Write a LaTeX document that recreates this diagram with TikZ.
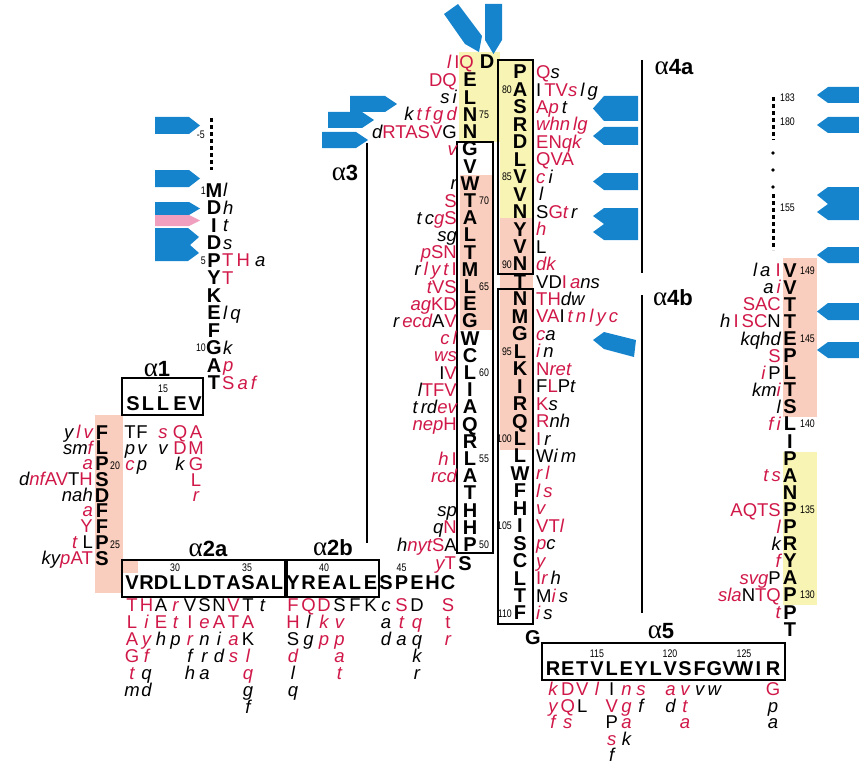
\documentclass[tikz,border=0pt]{standalone}
\usepackage{fontspec}
\setmainfont{Liberation Sans}
\newfontfamily\seriffont{Liberation Serif}
\definecolor{vred}{RGB}{208,24,72}
\definecolor{vblue}{RGB}{22,132,204}
\definecolor{vpink}{RGB}{240,160,190}
\definecolor{salm}{RGB}{250,206,190}
\definecolor{yel}{RGB}{248,244,180}
\newcommand\rU[1]{\textcolor{vred}{#1}}
\newcommand\rI[1]{\textcolor{vred}{\itshape #1}}
\newcommand\bI[1]{{\itshape #1}}
\newcommand\Mc[3]{\node[mn] at ({#1},{(#2)+7}) {#3};}
\newcommand\VL[3]{\node[vt,anchor=base west] at ({#1},{(#2)+6.6}) {#3};}
\newcommand\VR[3]{\node[vt,anchor=base east] at ({#1},{(#2)+6.6}) {#3};}
\newcommand\VC[3]{\node[vt,anchor=base] at ({#1},{(#2)+6.6}) {#3};}
\newcommand\NL[3]{\node[nm,anchor=base west] at ({#1},{(#2)+4}) {\scalebox{0.8}[1]{#3}};}
\newcommand\NR[3]{\node[nm,anchor=base east] at ({#1},{(#2)+4}) {\scalebox{0.8}[1]{#3}};}
\newcommand\NC[3]{\node[nm,anchor=base] at ({#1},{(#2)+4}) {\scalebox{0.8}[1]{#3}};}
\newcommand\Vcol[4][17]{\foreach \vv [count=\jj from 0] in {#4} {\node[vt,anchor=base] at ({#2},{(#3)+#1*\jj+6.6}) {\vv};}}
\newcommand\Alab[3]{\node[inner sep=0pt,anchor=base] at ({#1},{(#2)+8}) {{\seriffont\fontsize{27}{27}\selectfont α}{\fontsize{22}{22}\selectfont\bfseries #3}};}
\tikzset{
 mn/.style={font=\fontsize{20}{20}\selectfont\bfseries, inner sep=0pt, anchor=base},
 vt/.style={font=\fontsize{18.5}{18.5}\selectfont, inner sep=0pt},
 nm/.style={font=\fontsize{11}{11}\selectfont, inner sep=0pt},
 hbox/.style={draw, line width=2.4pt},
 hline/.style={line width=2.4pt},
 dotl/.style={line width=3pt, dash pattern=on 4pt off 3pt},
}
\begin{document}
\begin{tikzpicture}[x=1pt,y=-1pt]
\useasboundingbox (0,0) rectangle (859,765);
% highlights
\fill[salm] (95,415) rectangle (123,593);
\fill[salm] (122,561) rectangle (138,573);
\fill[salm] (460,175) rectangle (492,330);
\fill[yel] (459,52) rectangle (500,142);
\fill[yel] (500,60) rectangle (533,218);
\fill[salm] (500,218) rectangle (533,450);
\fill[salm] (783,258) rectangle (817,417);
\fill[yel] (783,452) rectangle (817,605);
% blue tags
\fill[vblue] (155,117)--(189,117)--(200,125.5)--(189,134)--(155,134)--cycle;
\fill[vblue] (155,170)--(189,170)--(200,178.5)--(189,187)--(155,187)--cycle;
\fill[vblue] (155,202)--(189,202)--(200,208.5)--(189,215)--(155,215)--cycle;
\fill[vpink] (155,215)--(189,215)--(200,220.5)--(189,226)--(155,226)--cycle;
\fill[vblue] (155,228)--(188,228)--(199,237)--(190,245)--(199,253)--(188,261)--(155,261)--cycle;
\fill[vblue] (350,96)--(385,96)--(397,104)--(385,112)--(350,112)--cycle;
\fill[vblue] (328,112)--(362,112)--(374,120)--(362,128)--(328,128)--cycle;
\fill[vblue] (322,132)--(356,132)--(368,140)--(356,148)--(322,148)--cycle;
\fill[vblue] (444,14)--(458,4)--(482,36)--(479,52)--(465,44)--cycle;
\fill[vblue] (485,4)--(502,4)--(502,40)--(493.5,54)--(485,40)--cycle;
\fill[vblue] (638,96)--(604,96)--(593,108.5)--(604,121)--(638,121)--cycle;
\fill[vblue] (638,127)--(604,127)--(593,136)--(604,145)--(638,145)--cycle;
\fill[vblue] (638,173)--(604,173)--(593,181.5)--(604,190)--(638,190)--cycle;
\fill[vblue] (638,208)--(604,208)--(593,216)--(604,224)--(593,232)--(604,240)--(638,240)--cycle;
\fill[vblue] (593,340)--(604,332)--(636,340)--(634,357)--(604,349)--cycle;
\fill[vblue] (859,87)--(828,87)--(817,95)--(828,103)--(859,103)--cycle;
\fill[vblue] (859,117)--(828,117)--(817,125)--(828,133)--(859,133)--cycle;
\fill[vblue] (859,187)--(828,187)--(817,195)--(828,204)--(817,212)--(828,220)--(859,220)--cycle;
\fill[vblue] (859,247)--(828,247)--(817,255)--(828,263)--(859,263)--cycle;
\fill[vblue] (859,303)--(828,303)--(817,311.5)--(828,320)--(859,320)--cycle;
\fill[vblue] (859,342)--(828,342)--(817,350)--(828,358)--(859,358)--cycle;
% dotted lines
\draw[dotl] (211,118)--(211,170);
\draw[dotl] (773,97)--(773,140);
\fill (773,153) circle (1.8); \fill (773,170) circle (1.8); \fill (773,187) circle (1.8);
\draw[dotl] (773,194)--(773,250);
% boxes and helix lines
\draw[hbox] (122,378) rectangle (203,415);
\draw[hbox] (122,560) rectangle (285,597);
\draw[hbox] (287,560) rectangle (379,597);
\draw[hbox] (457,142) rectangle (493,553);
\draw[hbox] (498,60) rectangle (533,274);
\draw[hbox] (498,289) rectangle (533,624);
\draw[hbox] (542,643) rectangle (785,680);
\draw[hline] (367,143)--(367,543);
\draw[hline] (642,60)--(642,273);
\draw[hline] (642,295)--(642,613);
% labels
\Alab{157}{368}{1}
\Alab{208}{548}{2a}
\Alab{333}{547}{2b}
\Alab{345}{172}{3}
\Alab{674}{67}{4a}
\Alab{673}{297}{4b}
\Alab{661}{630}{5}
% main chain
\foreach \cc [count=\ii from 0] in {M,D,I,D,P,Y,K,E,F,G,A,T} {\Mc{214}{190+17.5*\ii}{\cc}}
\Mc{133}{403}{S}\Mc{148}{403}{L}\Mc{163}{403}{L}\Mc{180}{403}{E}\Mc{195}{403}{V}
\foreach \cc [count=\ii from 0] in {F,L,P,S,D,F,F,P,S} {\Mc{102}{432+15.75*\ii}{\cc}}
\foreach \cc [count=\ii from 0] in {V,R,D,L,L,D,T,A,S,A,L} {\Mc{132+14.5*\ii}{582}{\cc}}
\foreach \cc [count=\ii from 0] in {Y,R,E,A,L,E,S,P,E,H,C} {\Mc{293+15.5*\ii}{582}{\cc}}
\Mc{465}{563}{S}
\foreach \cc [count=\ii from 0] in {E,L,N,N,G,V,W,T,A,L,T,M,L,E,G,W,C,L,I,A,Q,R,L,A,T,H,H,P} {\Mc{470}{80+17.2*\ii}{\cc}}
\Mc{487}{62}{D}
\foreach \cc [count=\ii from 0] in {P,A,S,R,D,L,V,V,N,Y,V,N,T,N,M,G,L,K,I,R,Q,L,L,W,F,H,I,S,C,L,T,F} {\Mc{520}{72+17.45*\ii}{\cc}}
\Mc{533}{637}{G}
\foreach \cc [count=\ii from 0] in {R,E,T,V,L,E,Y,L,V,S,F,G,V,W,I,R} {\Mc{553+14.67*\ii}{668}{\cc}}
\foreach \cc [count=\ii from 0] in {V,V,T,T,E,P,L,T,S,L,I,P,A,N,P,P,R,Y,A,P,P,T} {\Mc{790}{270+17.1*\ii}{\cc}}
% numbers
\NR{205}{135}{-5}
\NR{206}{190}{1}\NR{206}{260}{5}\NR{206}{347.5}{10}
\NC{163}{388}{15}\NL{110}{465}{20}\NL{110}{544}{25}
\NC{175}{567}{30}\NC{247}{567}{35}\NC{324}{567}{40}\NC{401.5}{567}{45}
\NL{479}{114.4}{75}\NL{479}{200.4}{70}\NL{479}{286.4}{65}\NL{479}{372.4}{60}\NL{479}{458.4}{55}\NL{479}{544.4}{50}
\NR{512}{89.45}{80}\NR{512}{176.7}{85}\NR{512}{264}{90}\NR{512}{351.25}{95}\NR{512}{438.5}{100}\NR{512}{525.7}{105}\NR{512}{613}{110}
\NC{597}{653}{115}\NC{670}{653}{120}\NC{744}{653}{125}
\NL{800}{270}{149}\NL{800}{338.4}{145}\NL{800}{423.9}{140}\NL{800}{509.4}{135}\NL{800}{594.9}{130}
\NL{780}{98}{183}\NL{780}{122}{180}\NL{780}{207}{155}
% variants column 1
\VL{223}{190}{\bI{l}}
\VL{223}{207.5}{\bI{h}}
\VL{223}{225}{\bI{t}}
\VL{223}{242.5}{\bI{s}}
\VL{222}{260}{\rU{T}\,\rU{H}\;\bI{a}}
\VL{222}{277.5}{\rU{T}}
\VL{223}{312.5}{\bI{l\,q}}
\VL{223}{347.5}{\bI{k}}
\VL{223}{365}{\rI{p}}
\VL{222}{382.5}{\rU{S}\,\rI{a\,f}}
% column 2 left
\VR{93}{432}{\bI{y}\,\rI{l\,v}}
\VR{93}{448}{\bI{sm}\rI{f}}
\VR{93}{463}{\rI{a}}
\VR{93}{479}{\bI{d}\rI{nf}\rU{AV}T\rU{H}}
\VR{93}{495}{\bI{nah}}
\VR{93}{510}{\rI{a}}
\VR{93}{526}{\rU{Y}}
\VR{93}{542}{\rI{t}\;L}
\VR{93}{558}{\bI{ky}\rI{p}\rU{AT}}
% under SLLEV
\foreach \xx/\ll in {130/{T,\bI{p},\rI{c}},142/{F,\bI{v},\bI{p}},163/{\rI{s},\bI{v}},180/{\rU{Q},\rU{D},\bI{k}},196/{\rU{A},\rU{M},\rU{G},\rU{L},\rI{r}}} {
 \foreach \vv [count=\jj from 0] in \ll {\node[vt,anchor=base] at ({\xx},{432+15.8*\jj+6.6}) {\vv};}}
% under alpha 2a
\Vcol{132}{605}{\rU{T},\rU{L},\rU{A},\rU{G},\rI{t},\bI{m}}
\Vcol{146.5}{605}{\rU{H},\rI{i},\rI{y},\rI{f},\bI{q},\bI{d}}
\Vcol{161}{605}{A,\rU{E},\bI{h}}
\Vcol{175.5}{605}{\rI{r},\rI{t},\bI{p}}
\Vcol{190}{605}{V,\rU{I},\rI{r},\bI{f},\bI{h}}
\Vcol{204.5}{605}{S,\rI{e},\bI{n},\bI{r},\bI{a}}
\Vcol{219}{605}{N,\rU{A},\bI{i},\bI{d}}
\Vcol{233.5}{605}{\rU{V},\rU{T},\rI{a},\rI{s}}
\Vcol{248}{605}{T,\rU{A},K,\rI{l},\rI{q},\bI{g},\bI{f}}
\Vcol{262.5}{605}{\bI{t}}
% under alpha 2b
\Vcol{293}{605}{\rU{F},\rU{H},S,\rI{d},\bI{l},\bI{q}}
\Vcol{308.5}{605}{\rU{Q},\bI{l},\bI{g}}
\Vcol{324}{605}{\rU{D},\rI{k},\rI{p}}
\Vcol{339.5}{605}{S,\rI{v},\rI{p},\rI{a},\rI{t}}
\Vcol{355}{605}{F}
\Vcol{370.5}{605}{K}
\Vcol{386}{605}{\bI{c},\bI{a},\bI{d}}
\Vcol{401.5}{605}{\rU{S},\rI{t},\bI{a}}
\Vcol{417}{605}{D,\rI{q},\bI{q},\bI{k},\bI{r}}
\Vcol{448}{605}{\rU{S},\rU{t},\rI{r}}
% alpha 3 column variants
\VR{474}{62}{\rI{l}\,\rU{IQ}}
\VR{457}{80}{\rU{DQ}}
\VR{457}{97.2}{\bI{s\,i}}
\VR{457}{114.4}{\bI{k}\,\rI{t\,f\,g\,d}}
\VR{457}{131.6}{\bI{d}\rU{RTASV}G}
\VR{457}{148.8}{\rI{v}}
\VR{457}{183.2}{\bI{r}}
\VR{457}{200.4}{\rU{S}}
\VR{457}{217.6}{\bI{t\,c}\rI{g}\rU{S}}
\VR{457}{234.8}{\bI{sg}}
\VR{457}{252}{\rI{p}\rU{SN}}
\VR{457}{269.2}{\bI{r}\,\rI{l\,y\,t}\,\rU{I}}
\VR{457}{286.4}{\rI{t}\rU{VS}}
\VR{457}{303.6}{\rI{ag}\rU{KD}}
\VR{457}{320.8}{\bI{r}\,\rI{ecd}A\rU{V}}
\VR{457}{338}{\rI{c\,l}}
\VR{457}{355.2}{\rI{ws}}
\VR{457}{372.4}{I\rU{V}}
\VR{457}{389.6}{\bI{l}\rU{TFV}}
\VR{457}{406.8}{\bI{t\,rd}\rI{ev}}
\VR{457}{424}{\rI{nep}\rU{H}}
\VR{457}{458.4}{\rI{h}\,\rU{I}}
\VR{457}{475.6}{\rI{rcd}}
\VR{457}{510}{\bI{sp}}
\VR{457}{527.2}{\bI{q}\rU{N}}
\VR{457}{544.4}{\bI{h}\rI{nyt}\rU{S}A}
\VR{456}{563}{\rI{y}\rU{T}}
% alpha 4 column variants
\VL{536}{72}{\rU{Q}\bI{s}}
\VL{536}{89.45}{I\,\rU{TV}\rI{s}\,\bI{l\,g}}
\VL{536}{106.9}{\rU{A}\rI{p}\,\bI{t}}
\VL{536}{124.35}{\rI{whn\,lg}}
\VL{536}{141.8}{\rU{EN}\rI{qk}}
\VL{536}{159.25}{\rU{QVA}}
\VL{536}{176.7}{\rI{c}\,\bI{i}}
\VL{539}{194.15}{\bI{l}}
\VL{536}{211.6}{S\rU{G}\rI{t}\,\bI{r}}
\VL{536}{229.05}{\rI{h}}
\VL{536}{246.5}{L}
\VL{536}{263.95}{\rI{dk}}
\VL{536}{281.4}{VD\rU{I}\,\rI{a}\bI{ns}}
\VL{536}{298.85}{\rU{TH}\bI{dw}}
\VL{536}{316.3}{\rU{VA}I\,\rI{t\,n\,l\,y\,c}}
\VL{536}{333.75}{\rI{c}\bI{a}}
\VL{536}{351.2}{\rI{i}\,\bI{n}}
\VL{536}{368.65}{\rU{N}\rI{ret}}
\VL{536}{386.1}{F\rU{L}P\bI{t}}
\VL{536}{403.55}{\rU{K}\bI{s}}
\VL{536}{421}{\rU{R}\bI{nh}}
\VL{536}{438.45}{\rU{I}\,\bI{r}}
\VL{536}{455.9}{W\bI{i\,m}}
\VL{536}{473.35}{\rI{r\,l}}
\VL{536}{490.8}{\rI{l\,s}}
\VL{536}{508.25}{\rI{v}}
\VL{536}{525.7}{\rU{VT}\rI{l}}
\VL{536}{543.15}{\rI{p}\bI{c}}
\VL{536}{560.6}{\rI{y}}
\VL{536}{578.05}{\rU{I}\rI{r}\,\bI{h}}
\VL{536}{595.5}{M\rI{i}\,\bI{s}}
\VL{536}{612.95}{\rI{i}\,\bI{s}}
% under alpha 5
\Vcol[16.5]{553}{689}{\rI{k},\rI{y},\rI{f}}
\Vcol[16.5]{567.7}{689}{\rU{D},\rU{Q},\rI{s}}
\Vcol[16.5]{582.3}{689}{\rU{V},L}
\Vcol[16.5]{597}{689}{\rI{l}}
\Vcol[16.5]{611.7}{689}{I,\rU{V},P,\rI{s},\bI{f}}
\Vcol[16.5]{626.4}{689}{\rI{n},\rI{g},\rI{a},\bI{k}}
\Vcol[16.5]{641}{689}{\rI{s},\bI{f}}
\Vcol[16.5]{670.4}{689}{\rI{a},\bI{d}}
\Vcol[16.5]{685}{689}{\rI{v},\rI{t},\rI{a}}
\Vcol[16.5]{699.7}{689}{\bI{v}}
\Vcol[16.5]{714.4}{689}{\bI{w}}
\Vcol[16.5]{773}{689}{\rU{G},\bI{p},\bI{a}}
% right column variants
\VR{781}{270}{\bI{l\,a}\;\rU{I}}
\VR{781}{287.1}{\bI{a}\,\rI{i}}
\VR{781}{304.2}{\rU{SAC}}
\VR{781}{321.3}{\bI{h}\,\rU{I\,SC}N}
\VR{781}{338.4}{\bI{kqhd}}
\VR{781}{355.5}{\rU{S}}
\VR{781}{372.6}{\rI{i}\,P}
\VR{781}{389.7}{\bI{km}\rI{i}}
\VR{781}{406.8}{\bI{l}}
\VR{781}{423.9}{\rI{f\,i}}
\VR{781}{475.2}{\rI{t\,s}}
\VR{781}{509.4}{\rU{AQTS}}
\VR{781}{526.5}{\rI{l}}
\VR{781}{543.6}{\bI{k}}
\VR{781}{560.7}{\rI{f}}
\VR{781}{577.8}{\rI{svg}P}
\VR{781}{594.9}{\rI{sla}N\rU{TQ}}
\VR{781}{612}{\rI{t}}
\end{tikzpicture}
\end{document}
